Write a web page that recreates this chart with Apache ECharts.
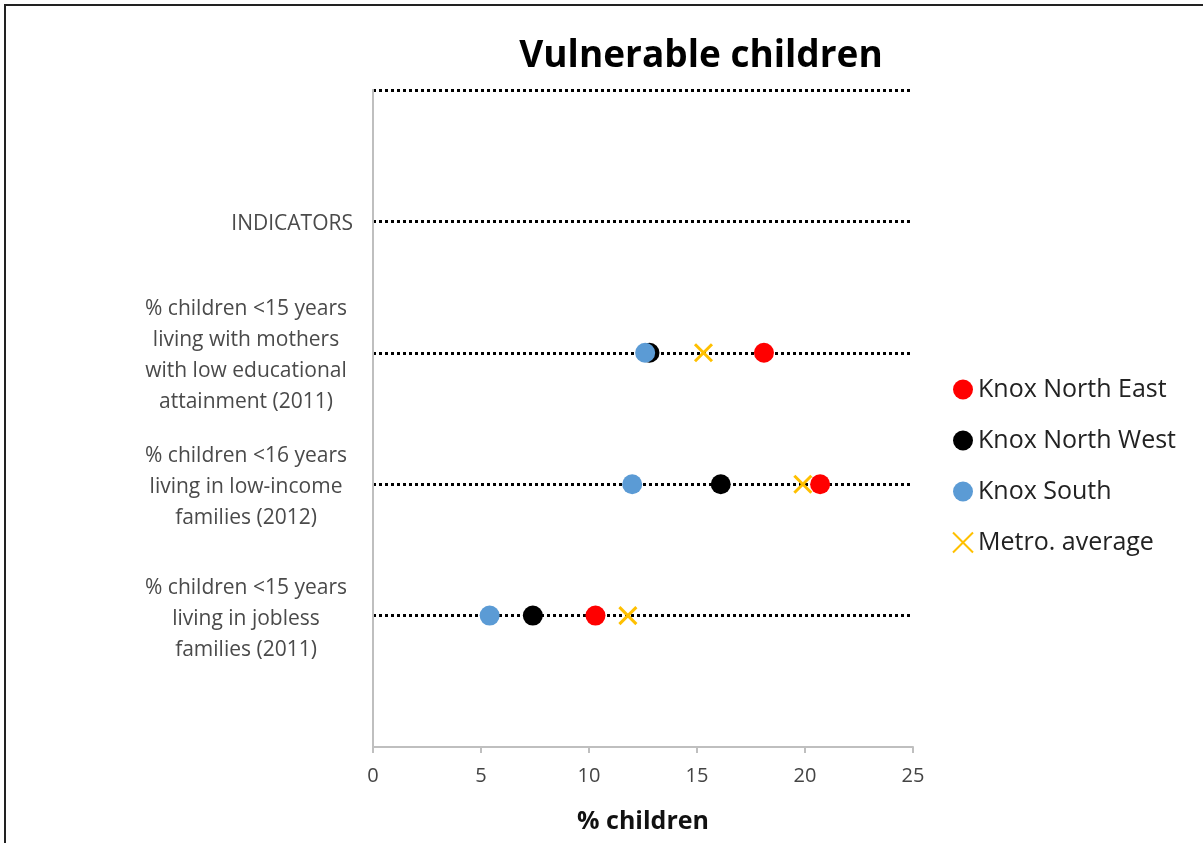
<!DOCTYPE html>
<html>
<head>
<meta charset="utf-8">
<script src="https://cdn.jsdelivr.net/npm/echarts@6/dist/echarts.min.js"></script>
<style>html,body{margin:0;padding:0;background:#fff}#c{width:1203px;height:843px}</style>
</head>
<body>
<div id="c"></div>
<script>
var rowLabels = ['', '% children <15 years\nliving in jobless\nfamilies (2011)', '% children <16 years\nliving in low-income\nfamilies (2012)', '% children <15 years\nliving with mothers\nwith low educational\nattainment (2011)', 'INDICATORS', ''];
var rowPositions = [1, 2, 3];
var knoxNorthEast = [10.3, 20.7, 18.1];
var knoxNorthWest = [7.4, 16.1, 12.8];
var knoxSouth = [5.4, 12.0, 12.6];
var metroAverage = [11.8, 19.9, 15.3];
var xTicks = [0, 5, 10, 15, 20, 25];

function pairs(vals) { return vals.map(function (v, i) { return [v, rowPositions[i]]; }); }
var FONT = 'Open Sans';
var xPath = 'path://M0,0 L10,10 M10,0 L0,10';

var chart = echarts.init(document.getElementById('c'));
chart.setOption({
  backgroundColor: '#fff',
  animation: false,
  graphic: [{ type: 'rect', shape: { x: 5, y: 5, width: 1220, height: 860 }, style: { fill: 'none', stroke: '#222', lineWidth: 2 }, silent: true }],
  title: { text: 'Vulnerable children', left: 696, textAlign: 'center', top: 33,
    textStyle: { fontFamily: FONT, fontSize: 37, fontWeight: 'bold', color: '#000' } },
  legend: {
    orient: 'vertical', left: 947, top: 372, itemWidth: 20, itemHeight: 20, itemGap: 26,
    data: ['Knox North East', 'Knox North West', 'Knox South', 'Metro. average'],
    textStyle: { fontFamily: FONT, fontSize: 25, color: '#222', padding: [0, 0, 0, 0] }
  },
  grid: { left: 373, right: 290, top: 90, bottom: 96, containLabel: false },
  xAxis: {
    type: 'value', min: 0, max: 25, interval: 5,
    axisLine: { show: true, lineStyle: { color: '#bfbfbf', width: 2 } },
    axisTick: { show: true, length: 6, lineStyle: { color: '#bfbfbf', width: 2 } },
    splitLine: { show: false },
    axisLabel: { fontFamily: FONT, fontSize: 20, color: '#444', margin: 19,
      formatter: function (v) { return xTicks.indexOf(v) >= 0 ? String(v) : ''; } },
    name: '% children', nameLocation: 'middle', nameGap: 62,
    nameTextStyle: { fontFamily: FONT, fontSize: 25, fontWeight: 'bold', color: '#111' }
  },
  yAxis: [{
    type: 'value', min: 0, max: 5, interval: 1,
    axisLine: { show: true, onZero: false, lineStyle: { color: '#bfbfbf', width: 2 } },
    axisTick: { show: false },
    splitLine: { show: true, lineStyle: { type: [3, 3], width: 3, color: ['rgba(0,0,0,0)', '#000', '#000', '#000', '#000', '#000'] } },
    axisLabel: {
      margin: 20, fontFamily: FONT, fontSize: 21, color: '#4a4a4a', lineHeight: 31, padding: [6, 0, 0, 0],
      formatter: function (v) {
        var t = rowLabels[v] || '';
        if (!t) return '';
        if (v === 4) return '{s|' + t + '}';
        return t.split('\n').map(function (l) { return '{a|' + l + '}'; }).join('\n');
      },
      rich: {
        a: { width: 214, align: 'center', fontFamily: FONT, fontSize: 21, color: '#4a4a4a', lineHeight: 31 },
        s: { fontFamily: FONT, fontSize: 21, color: '#4a4a4a' }
      }
    }
  }, {
    type: 'value', min: 0, max: 5, interval: 1, position: 'right',
    axisLine: { show: true, lineStyle: { color: '#bfbfbf', width: 2 } },
    axisTick: { show: false }, axisLabel: { show: false }, splitLine: { show: false }
  }],
  series: [
    { name: 'Knox North West', type: 'scatter', symbol: 'circle', symbolSize: 20, data: pairs(knoxNorthWest), itemStyle: { color: '#000', opacity: 1 } },
    { name: 'Knox South', type: 'scatter', symbol: 'circle', symbolSize: 20, data: pairs(knoxSouth), itemStyle: { color: '#5b9bd5', opacity: 1 } },
    { name: 'Metro. average', type: 'scatter', symbol: xPath, symbolSize: 17, data: pairs(metroAverage), itemStyle: { color: 'rgba(0,0,0,0)', borderColor: '#ffc000', borderWidth: 3, opacity: 1 } },
    { name: 'Knox North East', type: 'scatter', symbol: 'circle', symbolSize: 20, data: pairs(knoxNorthEast), itemStyle: { color: '#ff0000', opacity: 1 } }
  ]
});
</script>
</body>
</html>
